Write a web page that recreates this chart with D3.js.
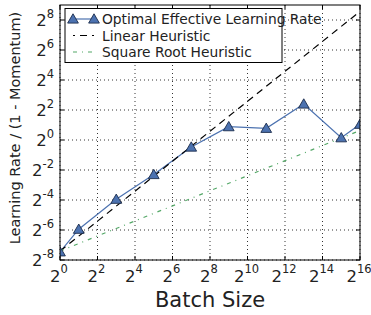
<!DOCTYPE html>
<html>
<head>
<meta charset="utf-8">
<script src="https://cdn.jsdelivr.net/npm/d3@7"></script>
<style>
  body { margin: 0; background: #fff; }
  text { font-family: "DejaVu Sans", sans-serif; }
</style>
</head>
<body>
<svg id="chart" width="371" height="315"></svg>
<script>
// values
const batchSizes = [1, 2, 8, 32, 128, 512, 2048, 8192, 32768, 65536];
const optimalLR = [0.0057, 0.0162, 0.0647, 0.203, 0.722, 1.853, 1.717, 5.28, 1.11, 2.07];
const heuristicBatch = [1, 65536];
const linearLR = [0.0059, 380];
const sqrtLR = [0.0059, 1.55];
const xTickExp = [0, 2, 4, 6, 8, 10, 12, 14, 16];
const yTickExp = [-8, -6, -4, -2, 0, 2, 4, 6, 8];
const seriesNames = ["Optimal Effective Learning Rate", "Linear Heuristic", "Square Root Heuristic"];

const margin = {top: 5, right: 11, bottom: 55, left: 60};
const width = 371 - margin.left - margin.right;
const height = 315 - margin.top - margin.bottom;

const blue = "#4c72b0", green = "#55a868";

const svg = d3.select("#chart");
const g = svg.append("g")
    .attr("transform", "translate(" + margin.left + "," + margin.top + ")");

const x = d3.scaleLog().base(2).domain([1, 65536]).range([0, width]);
const y = d3.scaleLog().base(2).domain([Math.pow(2, -8), Math.pow(2, 9)]).range([height, 0]);

g.append("clipPath").attr("id", "clip")
  .append("rect").attr("width", width).attr("height", height);

// grid
g.append("g").selectAll("line")
    .data(xTickExp).enter().append("line")
    .attr("x1", d => x(Math.pow(2, d))).attr("x2", d => x(Math.pow(2, d)))
    .attr("y1", 0).attr("y2", height)
    .attr("stroke", "#000").attr("stroke-width", 0.8).attr("stroke-dasharray", "1,3");
g.append("g").selectAll("line")
    .data(yTickExp).enter().append("line")
    .attr("y1", d => y(Math.pow(2, d))).attr("y2", d => y(Math.pow(2, d)))
    .attr("x1", 0).attr("x2", width)
    .attr("stroke", "#000").attr("stroke-width", 0.8).attr("stroke-dasharray", "1,3");

// series
const plot = g.append("g").attr("clip-path", "url(#clip)");
const line = d3.line().x(d => x(d[0])).y(d => y(d[1]));

plot.append("path")
    .attr("d", line(d3.zip(batchSizes, optimalLR)))
    .attr("fill", "none").attr("stroke", blue).attr("stroke-width", 1.2);

plot.append("path")
    .attr("d", line(d3.zip(heuristicBatch, linearLR)))
    .attr("fill", "none").attr("stroke", "#000").attr("stroke-width", 1.2)
    .attr("stroke-dasharray", "7,5");

plot.append("path")
    .attr("d", line(d3.zip(heuristicBatch, sqrtLR)))
    .attr("fill", "none").attr("stroke", green).attr("stroke-width", 1.2)
    .attr("stroke-dasharray", "4,5,1,5");

const tri = d3.symbol().type(d3.symbolTriangle).size(50);
plot.selectAll("path.marker")
    .data(d3.zip(batchSizes, optimalLR)).enter().append("path")
    .attr("class", "marker")
    .attr("d", tri)
    .attr("transform", d => "translate(" + x(d[0]) + "," + (y(d[1]) + 1) + ")")
    .attr("fill", blue).attr("stroke", "#1c2c4c").attr("stroke-width", 0.9);

// frame
g.append("rect").attr("width", width).attr("height", height)
    .attr("fill", "none").attr("stroke", "#000").attr("stroke-width", 1);

// inward ticks on all sides
const tl = 4;
xTickExp.forEach(function(e) {
  const px = x(Math.pow(2, e));
  g.append("line").attr("x1", px).attr("x2", px).attr("y1", height).attr("y2", height - tl).attr("stroke", "#000");
  g.append("line").attr("x1", px).attr("x2", px).attr("y1", 0).attr("y2", tl).attr("stroke", "#000");
});
yTickExp.forEach(function(e) {
  const py = y(Math.pow(2, e));
  g.append("line").attr("y1", py).attr("y2", py).attr("x1", 0).attr("x2", tl).attr("stroke", "#000");
  g.append("line").attr("y1", py).attr("y2", py).attr("x1", width).attr("x2", width - tl).attr("stroke", "#000");
});

// tick labels as 2^n
function powLabel(sel, e) {
  sel.append("tspan").attr("font-size", 16.5).text("2");
  sel.append("tspan").attr("font-size", 11.5).attr("dy", -8.5).text(e < 0 ? "-" + (-e) : e);
}
xTickExp.forEach(function(e) {
  const t = g.append("text")
      .attr("x", x(Math.pow(2, e)) - 1).attr("y", height + 21.5)
      .attr("text-anchor", "middle").attr("fill", "#222");
  powLabel(t, e);
});
yTickExp.forEach(function(e) {
  const t = g.append("text")
      .attr("x", -6).attr("y", y(Math.pow(2, e)) + 6)
      .attr("text-anchor", "end").attr("fill", "#222");
  powLabel(t, e);
});

// axis titles
svg.append("text")
    .attr("x", margin.left + width / 2).attr("y", 307)
    .attr("text-anchor", "middle").attr("font-size", 21).attr("fill", "#222")
    .text("Batch Size");
svg.append("text")
    .attr("transform", "translate(20,128) rotate(-90)")
    .attr("text-anchor", "middle").attr("font-size", 14.5).attr("fill", "#222")
    .text("Learning Rate / (1 - Momentum)");

// legend
const legend = g.append("g").attr("transform", "translate(5,3.5)");
legend.append("rect").attr("width", 217).attr("height", 54)
    .attr("fill", "#fff").attr("stroke", "#000").attr("stroke-width", 1);
const rows = legend.selectAll("g.entry").data(seriesNames).enter().append("g")
    .attr("class", "entry")
    .attr("transform", (d, i) => "translate(0," + (10.5 + i * 16.5) + ")");
rows.append("line")
    .attr("x1", 8).attr("x2", 29).attr("y1", 0).attr("y2", 0)
    .attr("stroke", (d, i) => [blue, "#000", green][i])
    .attr("stroke-width", 1.2)
    .attr("stroke-dasharray", (d, i) => [null, "7,5", "4,5,1,5"][i])
    .attr("stroke-dashoffset", (d, i) => [0, -7, 0][i]);
rows.filter((d, i) => i === 0).selectAll("path")
    .data([8, 29]).enter().append("path")
    .attr("d", tri)
    .attr("transform", d => "translate(" + d + ",1)")
    .attr("fill", blue).attr("stroke", "#1c2c4c").attr("stroke-width", 0.9);
rows.append("text")
    .attr("x", 37).attr("y", 5)
    .attr("font-size", 13.8).attr("fill", "#222")
    .text(d => d);
</script>
</body>
</html>
